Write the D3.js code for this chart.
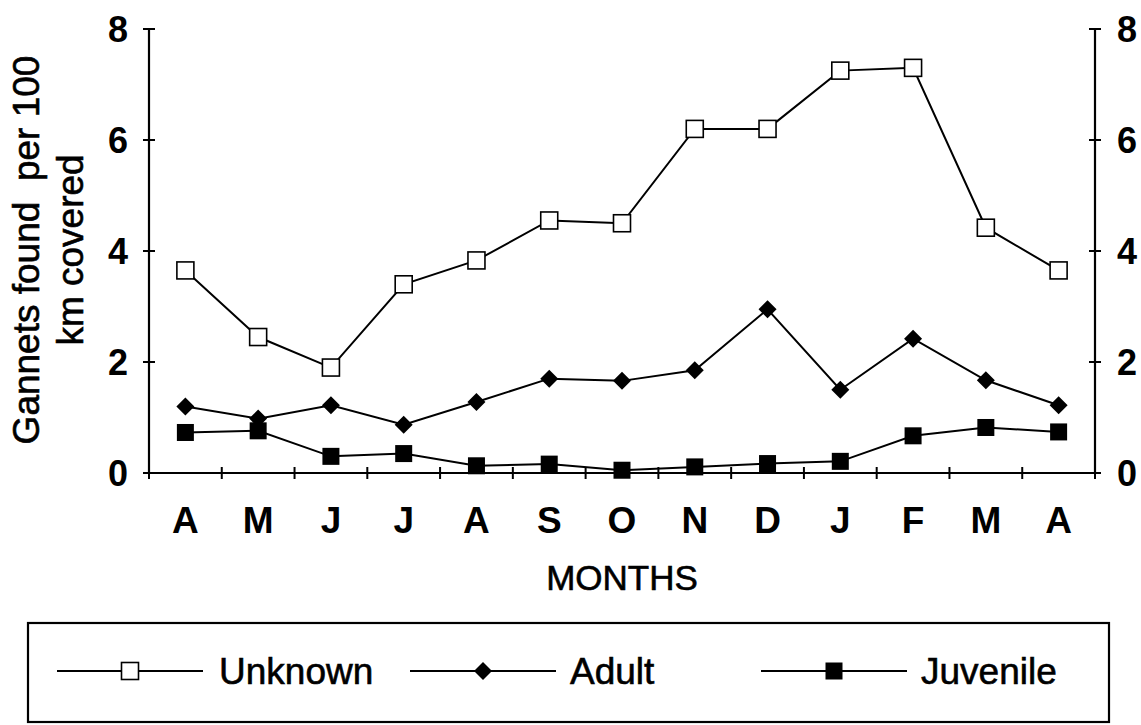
<!DOCTYPE html>
<html><head><meta charset="utf-8">
<script src="https://cdn.jsdelivr.net/npm/d3@7"></script>
<style>body{margin:0;background:#fff}svg{display:block}text{font-family:"Liberation Sans",Arial,sans-serif;fill:#000}
.thick{stroke:#000;stroke-width:0.6px}</style>
</head><body><svg id="c" width="1141" height="725"></svg>
<script>
const months = ["A","M","J","J","A","S","O","N","D","J","F","M","A"];
const unknown = [3.65,2.45,1.9,3.4,3.83,4.55,4.5,6.2,6.2,7.25,7.3,4.42,3.65];
const adult = [1.2,0.98,1.22,0.87,1.28,1.7,1.66,1.85,2.95,1.5,2.42,1.67,1.22];
const juvenile = [0.73,0.76,0.3,0.35,0.13,0.16,0.05,0.11,0.17,0.21,0.67,0.82,0.74];
const yTicks = [0,2,4,6,8];

const svg = d3.select("#c");
const L=149, R=1095, T=29, B=473;
const x = d3.scaleBand().domain(d3.range(months.length)).range([L,R]);
const y = d3.scaleLinear().domain([0,8]).range([B,T]);
const cx = i => x(i)+x.bandwidth()/2;

// axes lines
svg.append("line").attr("x1",L).attr("x2",L).attr("y1",T).attr("y2",B).attr("stroke","#000").attr("stroke-width",2.2);
svg.append("line").attr("x1",R).attr("x2",R).attr("y1",T).attr("y2",B).attr("stroke","#000").attr("stroke-width",2.2);
svg.append("line").attr("x1",L).attr("x2",R).attr("y1",B).attr("y2",B).attr("stroke","#000").attr("stroke-width",2.2);
// y ticks
yTicks.forEach(t=>{
  [L,R].forEach(ax=>{
    svg.append("line").attr("x1",ax-6).attr("x2",ax+6).attr("y1",y(t)).attr("y2",y(t)).attr("stroke","#000").attr("stroke-width",2);
  });
  svg.append("text").attr("x",L-21).attr("y",y(t)).attr("dy","0.37em").attr("text-anchor","end")
    .style("font-size","36px").style("font-weight","bold").text(t);
  svg.append("text").attr("x",R+22).attr("y",y(t)).attr("dy","0.37em").attr("text-anchor","start")
    .style("font-size","36px").style("font-weight","bold").text(t);
});
// x ticks at band boundaries
d3.range(months.length+1).forEach(i=>{
  const xx = L + i*x.step();
  svg.append("line").attr("x1",xx).attr("x2",xx).attr("y1",B-6).attr("y2",B+6).attr("stroke","#000").attr("stroke-width",2);
});
months.forEach((m,i)=>{
  svg.append("text").attr("x",cx(i)).attr("y",533).attr("text-anchor","middle")
    .style("font-size","37px").style("font-weight","bold").text(m);
});
svg.append("text").attr("class","thick").attr("x",(L+R)/2).attr("y",590).attr("text-anchor","middle").style("font-size","35px").text("MONTHS");
// y label
const yl = svg.append("text").attr("class","thick").attr("transform","translate(0,250) rotate(-90)").attr("text-anchor","middle")
  .style("font-size","37px").style("white-space","pre");
yl.append("tspan").attr("x",0).attr("y",39).text("Gannets found  per 100");
yl.append("tspan").attr("x",0).attr("y",83).text("km covered");

const line = d3.line().x((d,i)=>cx(i)).y(d=>y(d));
function marker(g, type, px, py){
  if(type==="sq-open") g.append("rect").attr("x",px-8.5).attr("y",py-8.5).attr("width",17).attr("height",17).attr("fill","#fff").attr("stroke","#000").attr("stroke-width",1.6);
  else if(type==="sq") g.append("rect").attr("x",px-8.5).attr("y",py-8.5).attr("width",17).attr("height",17).attr("fill","#000");
  else g.append("path").attr("d",`M${px},${py-9}L${px+9},${py}L${px},${py+9}L${px-9},${py}Z`).attr("fill","#000");
}
const series = [{v:juvenile,t:"sq"},{v:adult,t:"dia"},{v:unknown,t:"sq-open"}];
series.forEach(s=>{
  svg.append("path").datum(s.v).attr("d",line).attr("fill","none").attr("stroke","#000").attr("stroke-width",2);
  const g = svg.append("g");
  s.v.forEach((d,i)=>marker(g,s.t,cx(i),y(d)));
});

// legend
svg.append("rect").attr("x",28).attr("y",623).attr("width",1081).attr("height",99).attr("fill","none").attr("stroke","#000").attr("stroke-width",2.2);
const leg = [{n:"Unknown",t:"sq-open",x1:57,x2:203,tx:219},{n:"Adult",t:"dia",x1:410,x2:556,tx:570},{n:"Juvenile",t:"sq",x1:761,x2:907,tx:921}];
leg.forEach(l=>{
  const ly=671;
  svg.append("line").attr("x1",l.x1).attr("x2",l.x2).attr("y1",ly).attr("y2",ly).attr("stroke","#000").attr("stroke-width",2);
  const g=svg.append("g");
  marker(g,l.t,(l.x1+l.x2)/2,ly);
  svg.append("text").attr("class","thick").attr("x",l.tx).attr("y",ly).attr("dy","0.36em").style("font-size","37px").text(l.n);
});
</script></body></html>
